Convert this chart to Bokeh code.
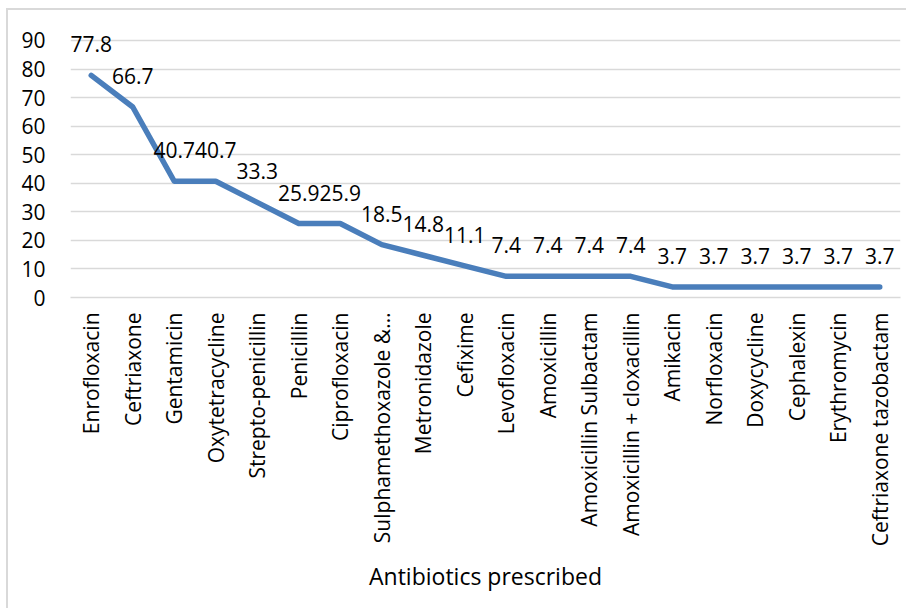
import math
from bokeh.plotting import figure
from bokeh.models import Range1d, ColumnDataSource, FixedTicker
from bokeh.core.properties import value
from bokeh.embed import file_html
from bokeh.resources import INLINE

categories = ["Enrofloxacin", "Ceftriaxone", "Gentamicin", "Oxytetracycline",
              "Strepto-penicillin", "Penicillin", "Ciprofloxacin",
              "Sulphamethoxazole &\u2026", "Metronidazole", "Cefixime",
              "Levofloxacin", "Amoxicillin", "Amoxicillin Sulbactam",
              "Amoxicillin + cloxacillin", "Amikacin", "Norfloxacin",
              "Doxycycline", "Cephalexin", "Erythromycin",
              "Ceftriaxone tazobactam"]
percent = [77.8, 66.7, 40.7, 40.7, 33.3, 25.9, 25.9, 18.5, 14.8, 11.1,
           7.4, 7.4, 7.4, 7.4, 3.7, 3.7, 3.7, 3.7, 3.7, 3.7]
y_ticks = [0, 10, 20, 30, 40, 50, 60, 70, 80, 90]
x_title = "Antibiotics prescribed"

FONT = "Open Sans"
src = ColumnDataSource(dict(x=categories, y=percent,
                            lbl=[f"{v:.1f}" for v in percent]))

p = figure(x_range=categories, y_range=Range1d(0, 99.8),
           width=900, height=600, output_backend="svg",
           toolbar_location=None,
           min_border_left=62, min_border_right=8,
           min_border_top=2, min_border_bottom=313)
p.margin = (10, 0, 0, 8)
p.styles = {"box-shadow": "-2px -2px 0 0 #d9d9d9"}
p.outline_line_color = None

p.line("x", "y", source=src, line_color="#4a7ebb", line_width=5.5,
       line_join="round", line_cap="round")
p.text("x", "y", text="lbl", source=src, y_offset=-31,
       text_align="center", text_baseline="middle",
       text_font=value(FONT), text_font_size="21px", text_color="#000000")

p.yaxis.ticker = FixedTicker(ticks=y_ticks)
p.yaxis.axis_line_color = None
p.yaxis.major_tick_line_color = None
p.yaxis.minor_tick_line_color = None
p.yaxis.major_label_standoff = 19
p.yaxis.major_label_text_font = FONT
p.yaxis.major_label_text_font_size = "21px"
p.yaxis.major_label_text_color = "#000000"

p.xaxis.axis_line_color = "#d9d9d9"
p.xaxis.axis_line_width = 1.3
p.xaxis.major_tick_line_color = None
p.xaxis.minor_tick_line_color = None
p.xaxis.major_label_orientation = math.pi / 2
p.xaxis.major_label_standoff = 9
p.xaxis.major_label_text_font = FONT
p.xaxis.major_label_text_font_size = "21px"
p.xaxis.major_label_text_color = "#000000"
p.xaxis.axis_label = x_title
p.xaxis.axis_label_text_font = FONT
p.xaxis.axis_label_text_font_size = "23px"
p.xaxis.axis_label_text_font_style = "normal"
p.xaxis.axis_label_text_color = "#000000"
p.xaxis.axis_label_standoff = 11

p.xgrid.grid_line_color = None
p.ygrid.grid_line_color = "#d9d9d9"
p.ygrid.grid_line_width = 1.3
p.ygrid.ticker = FixedTicker(ticks=y_ticks)

open("out.html", "w").write(file_html(p, INLINE))
